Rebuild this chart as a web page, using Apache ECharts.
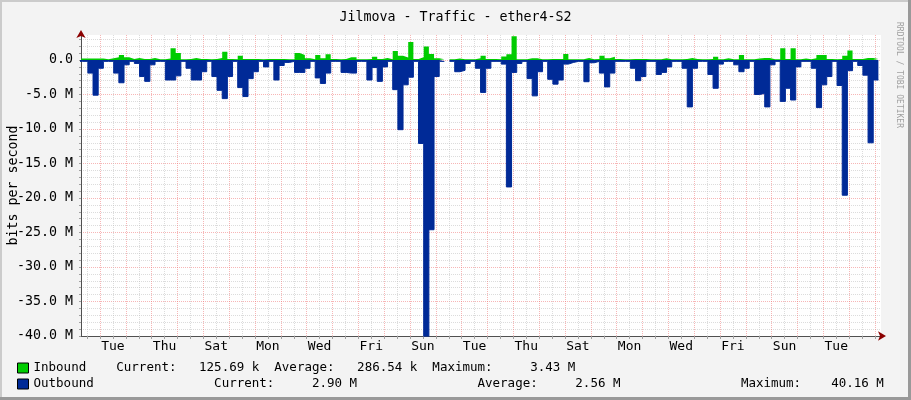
<!DOCTYPE html>
<html><head><meta charset="utf-8">
<script src="https://cdn.jsdelivr.net/npm/echarts@6/dist/echarts.min.js"></script>
<style>html,body{margin:0;padding:0;background:#f3f3f3}#c{width:911px;height:400px}</style>
</head><body><div id="c"></div>
<script>
// time axis in hours since Monday 00:00 of the first week shown
const stepHours = 4.8;          // consolidation step of the data
const firstStepStart = 3.13;    // start hour of the first (partly visible) step

// Outbound traffic, Mbit/s (drawn negative), one value per step
const outbound = [
  -0.2,-0.2,-1.9,-5.1,-1.2,-0.2,-0.2,-1.9,-3.3,-0.7,
  -0.2,-0.5,-2.4,-3.1,-0.7,-0.2,-0.2,-2.9,-2.9,-2.3,
  -0.2,-1.2,-2.9,-2.9,-1.7,-0.2,-2.4,-4.4,-5.6,-2.4,
  -0.2,-4.0,-5.3,-2.7,-1.7,-0.2,-1.0,-0.2,-2.9,-0.8,
  -0.35,-0.2,-1.8,-1.8,-1.2,-0.2,-2.6,-3.4,-1.9,-0.2,
  -0.2,-1.8,-1.9,-1.9,-0.2,-0.2,-2.9,-1.1,-3.1,-1.0,
  -0.2,-4.3,-10.1,-3.6,-2.5,-0.2,-12.1,-40.16,-24.6,-2.4,
  -0.2,null,-0.2,-1.7,-1.5,-0.5,-0.2,-1.2,-4.7,-1.2,
  -0.2,-0.2,-0.6,-18.4,-1.8,-0.5,-0.2,-2.7,-5.2,-1.7,
  -0.2,-2.8,-3.5,-2.9,-0.6,-0.35,-0.2,-0.2,-3.15,-0.4,
  -0.2,-1.9,-3.9,-1.9,-0.2,-0.2,-0.2,-1.2,-3.0,-2.4,
  -0.2,-0.2,-2.1,-1.8,-1.0,-0.2,-0.2,-1.2,-6.8,-1.2,
  -0.2,-0.2,-2.1,-4.1,-0.6,-0.2,-0.2,-0.7,-1.7,-1.2,
  -0.2,-5.0,-4.85,-6.8,-0.7,-0.2,-6.0,-4.1,-5.8,-1.0,
  -0.2,-0.2,-1.2,-6.9,-3.6,-2.4,-0.2,-3.7,-19.6,-1.55,
  -0.2,-0.8,-2.2,-12.0,-2.9
];
// Inbound traffic, Mbit/s, one value per step
const inbound = [
  0.2,0.2,0.2,0.2,0.2,0.1,0.24,0.4,0.73,0.4,
  0.15,0.3,0.15,0.15,0.3,0.1,0.1,0.2,1.7,1.0,
  0.1,0.15,0.3,0.15,0.15,0.1,0.15,0.3,1.2,0.15,
  0.1,0.6,0.15,0.15,0.15,0.1,0.15,0.15,0.15,0.15,
  0.1,0.1,1.0,0.73,0.24,0.1,0.73,0.24,0.83,0.15,
  0.1,0.15,0.4,0.4,0.1,0.1,0.15,0.45,0.15,0.3,
  0.1,1.3,0.6,0.35,2.6,0.15,0.4,1.95,0.87,0.24,
  0.1,null,0.1,0.2,0.1,0.1,0.1,0.24,0.6,0.15,
  0.15,0.1,0.5,0.83,3.43,0.1,0.1,0.24,0.24,0.1,
  0.1,0.15,0.15,0.15,0.87,0.1,0.1,0.1,0.3,0.1,
  0.15,0.6,0.24,0.45,0.15,0.1,0.1,0.15,0.15,0.15,
  0.1,0.1,0.1,0.24,0.1,0.1,0.1,0.15,0.3,0.15,
  0.1,0.1,0.15,0.45,0.1,0.24,0.1,0.1,0.73,0.1,
  0.1,0.2,0.3,0.3,0.1,0.1,1.7,0.15,1.7,0.1,
  0.2,0.1,0.24,0.73,0.73,0.15,0.1,0.15,0.6,1.36,
  0.15,0.15,0.3,0.3,0.13
];

const dayLabelHours = [36,84,132,180,228,276,324,372,420,468,516,564,612,660,708];
const dayLabelNames = ['Tue','Thu','Sat','Mon','Wed','Fri','Sun','Tue','Thu','Sat','Mon','Wed','Fri','Sun','Tue'];
const xGridHours = [12,24,36,48,60,72,84,96,108,120,132,144,156,168,180,192,204,216,228,240,252,264,276,288,300,312,324,336,348,360,372,384,396,408,420,432,444,456,468,480,492,504,516,528,540,552,564,576,588,600,612,624,636,648,660,672,684,696,708,720,732,744];
const yLabelValues = [-40,-35,-30,-25,-20,-15,-10,-5,0];
const yGridValues = [-40,-39,-38,-37,-36,-35,-34,-33,-32,-31,-30,-29,-28,-27,-26,-25,-24,-23,-22,-21,-20,-19,-18,-17,-16,-15,-14,-13,-12,-11,-10,-9,-8,-7,-6,-5,-4,-3,-2,-1,0,1,2,3];

const legendRows = {
  'Inbound':  'Inbound    Current:   125.69 k  Average:   286.54 k  Maximum:     3.43 M',
  'Outbound': 'Outbound                Current:     2.90 M                Average:     2.56 M                Maximum:    40.16 M'
};

const MONO = 'DejaVu Sans Mono';
const RED_GRID = 'rgba(240,110,110,0.5)';
const GRAY_GRID = 'rgba(185,185,185,0.5)';

function stepPoints(vals) {
  const pts = [];
  vals.forEach(function (v, i) {
    const t0 = firstStepStart + i * stepHours;
    if (v == null) { pts.push([t0, null]); }
    else { pts.push([t0, v]); pts.push([t0 + stepHours, v]); }
  });
  return pts;
}

const chart = echarts.init(document.getElementById('c'), null, {renderer: 'canvas'});
chart.setOption({
  animation: false,
  backgroundColor: '#f3f3f3',
  title: {
    text: 'Jilmova - Traffic - ether4-S2',
    left: 'center', top: 6,
    textStyle: {fontFamily: MONO, fontSize: 13.3, fontWeight: 'normal', color: '#000'}
  },
  legend: {
    orient: 'vertical', left: 17, top: 361, padding: 0,
    itemWidth: 11, itemHeight: 10, itemGap: 2, icon: 'rect',
    selectedMode: false,
    data: [
      {name: 'Inbound', itemStyle: {borderColor: '#000', borderWidth: 1}},
      {name: 'Outbound', itemStyle: {borderColor: '#000', borderWidth: 1}}
    ],
    formatter: function (name) { return legendRows[name]; },
    textStyle: {fontFamily: MONO, fontSize: 12.5, color: '#000', lineHeight: 14}
  },
  grid: {left: 81, right: 30, top: 35, bottom: 64, containLabel: false, outerBoundsMode: 'none',
    show: true, backgroundColor: '#fff', borderWidth: 0},
  xAxis: [{
    type: 'value', min: 6.35, max: 749.55,
    axisLine: {show: true, onZero: false, lineStyle: {color: '#505050', width: 1}},
    axisTick: {show: true, customValues: xGridHours, length: 3, lineStyle: {color: '#a0a0a0'}},
    axisLabel: {
      customValues: dayLabelHours, margin: 4,
      formatter: function (v) { return dayLabelNames[dayLabelHours.indexOf(v)] || ''; },
      fontFamily: MONO, fontSize: 13, color: '#000'
    },
    splitLine: {show: true, lineStyle: {color: [GRAY_GRID, RED_GRID], width: 1, type: [1, 1]}}
  }, {
    type: 'value', min: 6.35, max: 749.55, position: 'bottom',
    axisLine: {show: true, onZero: false, symbol: ['none', 'arrow'], symbolSize: [7, 8], symbolOffset: [0, 5],
      lineStyle: {color: '#8b0000', opacity: 0}},
    axisTick: {show: false}, axisLabel: {show: false}, splitLine: {show: false}
  }],
  yAxis: [{
    type: 'value', min: -40, max: 3.62,
    name: 'bits per second', nameLocation: 'middle', nameGap: 61, nameRotate: 90, nameMoveOverlap: false,
    nameTextStyle: {fontFamily: MONO, fontSize: 13.3, color: '#000'},
    axisLine: {show: true, onZero: false, lineStyle: {color: '#505050', width: 1}},
    axisTick: {show: true, customValues: yGridValues, length: 2, lineStyle: {color: '#a0a0a0'}},
    axisLabel: {
      customValues: yLabelValues, margin: 8,
      formatter: function (v) { return v === 0 ? '0.0' : v.toFixed(1) + ' M'; },
      fontFamily: MONO, fontSize: 13.3, color: '#000'
    },
    splitLine: {show: true, lineStyle: {color: [RED_GRID, GRAY_GRID, GRAY_GRID, GRAY_GRID, GRAY_GRID], width: 1, type: [1, 1]}}
  }, {
    type: 'value', min: -40, max: 3.62, position: 'left',
    axisLine: {show: true, onZero: false, symbol: ['none', 'arrow'], symbolSize: [7, 8], symbolOffset: [0, 5],
      lineStyle: {color: '#8b0000', opacity: 0}},
    axisTick: {show: false}, axisLabel: {show: false}, splitLine: {show: false}
  }],
  series: [{
    type: 'line', name: 'Inbound', color: '#00cc00',
    data: stepPoints(inbound), symbol: 'none', showSymbol: false, connectNulls: false,
    lineStyle: {width: 0}, areaStyle: {color: '#00cc00', opacity: 1}, z: 3
  }, {
    type: 'line', name: 'Outbound', color: '#002a97',
    data: stepPoints(outbound), symbol: 'none', showSymbol: false, connectNulls: false,
    lineStyle: {width: 1, color: '#002a97'}, areaStyle: {color: '#002a97', opacity: 1}, z: 3
  }],
  graphic: [
    {type: 'rect', left: 0, top: 0, shape: {width: 911, height: 2}, style: {fill: '#cbcbcb'}, silent: true},
    {type: 'rect', left: 0, top: 0, shape: {width: 2, height: 400}, style: {fill: '#cbcbcb'}, silent: true},
    {type: 'rect', left: 908, top: 0, shape: {width: 3, height: 400}, style: {fill: '#999'}, silent: true},
    {type: 'rect', left: 0, top: 397, shape: {width: 911, height: 3}, style: {fill: '#999'}, silent: true},
    {type: 'text', x: 899, y: 22, rotation: -Math.PI / 2, silent: true,
      style: {text: 'RRDTOOL / TOBI OETIKER', font: '8px "DejaVu Sans Mono"', fill: '#a0a0a0', align: 'left', verticalAlign: 'middle'}}
  ]
});
</script>
</body></html>
